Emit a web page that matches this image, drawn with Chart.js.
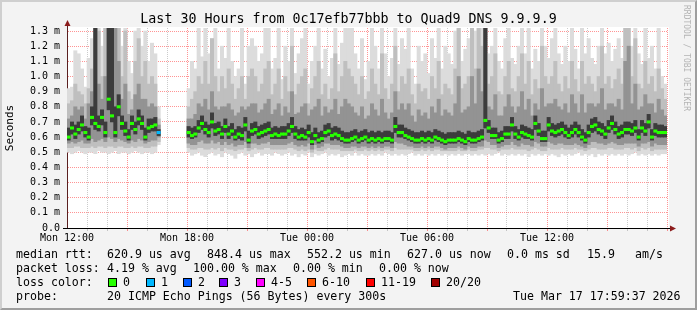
<!DOCTYPE html>
<html><head><meta charset="utf-8">
<script src="https://cdn.jsdelivr.net/npm/chart.js@4"></script>
<style>
html,body{margin:0;padding:0;background:#f3f3f3;}
#wrap{position:relative;width:697px;height:310px;overflow:hidden;background:#f3f3f3;}
#frame{position:absolute;left:0;top:0;width:697px;height:310px;box-sizing:border-box;border-top:2px solid #cfcfcf;border-left:2px solid #cfcfcf;border-right:2px solid #9e9e9e;border-bottom:2px solid #9e9e9e;pointer-events:none;}
canvas{position:absolute;left:0;top:0;}
#title{position:absolute;left:0;top:11px;width:697px;text-align:center;font-family:"DejaVu Sans Mono",monospace;font-size:13.3px;line-height:16px;color:#000;white-space:pre;}
.t{position:absolute;font-family:"DejaVu Sans Mono",monospace;font-size:11.6px;line-height:14px;color:#000;white-space:pre;}
.box{position:absolute;width:7px;height:7px;border:1px solid #000;}
#rrd{position:absolute;left:682px;top:5px;writing-mode:vertical-rl;font-family:"DejaVu Sans Mono",monospace;font-size:8px;line-height:9px;color:#b4b4b4;white-space:pre;}
</style></head>
<body>
<div id="wrap">
<canvas id="c" width="697" height="310"></canvas>
<div id="title">Last 30 Hours from 0c17efb77bbb to Quad9 DNS 9.9.9.9</div>
<div id="rrd">RRDTOOL / TOBI OETIKER</div>
<div id="stats"></div>
<div id="frame"></div>
</div>
<script>
// ---- data (10-minute steps over 30 hours, starting Mon 12:00) ----
const STEP_HOURS = 1/6;
const timeLabels = ['Mon 12:00','Mon 18:00','Tue 00:00','Tue 06:00','Tue 12:00'];
const N = null;

// median rtt (ms)
const median = [
 0.60,0.66,0.62,0.65,0.68,0.63,0.60,0.73,0.69,0.67,0.73,0.63,0.85,0.74,0.63,0.80,0.69,0.64,0.60,0.69,0.65,0.72,0.69,0.60,0.66,0.67,0.68,0.63,N,N,
 N,N,N,N,N,N,0.63,0.61,0.62,0.66,0.69,0.65,0.63,0.70,0.64,0.65,0.62,0.67,0.62,0.64,0.60,0.62,0.61,0.68,0.58,0.64,0.65,0.62,0.63,0.64,
 0.65,0.61,0.62,0.61,0.62,0.62,0.64,0.67,0.62,0.60,0.61,0.60,0.63,0.57,0.61,0.58,0.59,0.63,0.64,0.61,0.62,0.61,0.59,0.58,0.58,0.59,0.60,0.58,0.59,0.60,
 0.58,0.59,0.58,0.59,0.58,0.59,0.59,0.58,0.67,0.63,0.63,0.61,0.60,0.59,0.58,0.58,0.59,0.58,0.59,0.58,0.60,0.59,0.58,0.57,0.58,0.58,0.58,0.59,0.58,0.57,
 0.59,0.58,0.58,0.59,0.60,0.71,0.66,0.61,0.61,0.58,0.59,0.62,0.62,0.68,0.62,0.60,0.63,0.62,0.61,0.60,0.69,0.64,0.59,0.59,0.68,0.64,0.63,0.64,0.65,0.63,
 0.61,0.63,0.65,0.63,0.60,0.58,0.63,0.67,0.68,0.65,0.64,0.62,0.66,0.69,0.65,0.62,0.63,0.65,0.65,0.64,0.66,0.60,0.66,0.64,0.70,0.60,0.64,0.63,0.63,0.63
];
// pings lost (of 20) per step
const lost = [
 0,0,0,0,0,0,0,0,0,0,0,0,0,0,0,0,0,0,0,0,0,0,0,0,0,0,0,1,20,20,
 20,20,20,20,20,20,0,0,0,0,0,0,0,0,0,0,0,0,0,0,0,0,0,0,0,0,0,0,0,0,
 0,0,0,0,0,0,0,0,0,0,0,0,0,0,0,0,0,0,0,0,0,0,0,0,0,0,0,0,0,0,
 0,0,0,0,0,0,0,0,0,0,0,0,0,0,0,0,0,0,0,0,0,0,0,0,0,0,0,0,0,0,
 0,0,0,0,0,0,0,0,0,0,0,0,0,0,0,0,0,0,0,0,0,0,0,0,0,0,0,0,0,0,
 0,0,0,0,0,0,0,0,0,0,0,0,0,0,0,0,0,0,0,0,0,0,0,0,0,0,0,0,0,0
];
// smoke: outer (lightest) to inner (darkest) bands, low and high edges
const high1 = [
 0.92,0.93,1.17,1.15,1.05,0.93,1.12,1.25,1.35,1.35,1.20,1.35,1.35,1.35,1.35,1.35,1.20,1.35,1.10,1.02,1.30,1.35,1.20,1.30,1.10,1.22,1.15,0.80,N,N,
 N,N,N,N,N,N,0.92,1.10,1.05,1.35,1.13,1.35,1.15,1.25,1.35,1.05,1.20,1.12,1.35,1.10,1.00,1.05,1.35,0.95,1.20,1.25,1.20,1.10,1.15,1.35,
 1.35,1.05,1.12,1.35,0.98,1.20,1.10,1.35,1.02,1.15,1.25,1.35,0.95,1.10,1.20,1.35,1.05,1.18,1.00,1.12,1.35,1.08,1.22,1.35,1.35,1.35,1.15,1.05,1.25,0.98,
 1.10,1.35,1.20,1.05,1.35,1.15,1.00,1.12,1.35,1.08,1.25,1.18,1.35,1.05,0.95,1.20,1.10,1.15,1.02,1.25,1.12,1.35,1.05,1.20,1.15,1.08,1.30,1.35,1.10,1.18,
 1.25,1.35,1.30,1.35,1.35,1.35,1.15,1.20,1.35,1.10,1.05,1.25,1.35,1.12,1.08,1.20,1.35,1.15,1.35,1.05,1.18,1.10,1.35,1.20,1.12,1.25,1.35,1.15,1.08,1.20,
 1.10,1.35,1.18,1.05,1.35,1.15,1.25,1.12,1.08,1.20,1.35,1.15,1.22,1.10,1.18,1.25,1.12,1.35,1.35,1.20,1.35,1.15,1.08,1.35,1.12,1.20,1.05,1.35,1.00,0.95
];
const low1 = [
 0.50,0.49,0.50,0.51,0.50,0.49,0.50,0.50,0.49,0.51,0.50,0.50,0.49,0.50,0.51,0.49,0.50,0.50,0.49,0.50,0.51,0.50,0.49,0.50,0.50,0.49,0.50,0.55,N,N,
 N,N,N,N,N,N,0.50,0.48,0.49,0.50,0.48,0.47,0.49,0.50,0.48,0.49,0.47,0.50,0.49,0.48,0.46,0.49,0.50,0.48,0.49,0.47,0.49,0.50,0.48,0.49,
 0.49,0.48,0.50,0.49,0.48,0.49,0.50,0.48,0.49,0.47,0.49,0.48,0.50,0.47,0.49,0.48,0.49,0.50,0.48,0.49,0.48,0.49,0.47,0.48,0.49,0.48,0.50,0.48,0.49,0.48,
 0.48,0.49,0.48,0.49,0.48,0.50,0.49,0.48,0.49,0.48,0.49,0.48,0.49,0.50,0.48,0.49,0.48,0.49,0.48,0.49,0.48,0.49,0.48,0.49,0.48,0.49,0.48,0.49,0.48,0.49,
 0.49,0.48,0.49,0.48,0.49,0.48,0.49,0.48,0.49,0.50,0.48,0.49,0.48,0.49,0.48,0.49,0.48,0.49,0.47,0.49,0.48,0.49,0.48,0.49,0.48,0.49,0.48,0.47,0.49,0.48,
 0.49,0.48,0.49,0.50,0.48,0.49,0.48,0.49,0.47,0.49,0.48,0.49,0.48,0.49,0.48,0.49,0.48,0.49,0.48,0.49,0.50,0.48,0.49,0.48,0.49,0.48,0.49,0.48,0.49,0.49
];
const high2 = [
 0.82,0.84,0.95,0.90,0.88,0.82,0.92,1.05,1.35,1.30,1.00,1.32,1.35,1.35,1.35,1.35,1.00,1.30,0.90,0.85,1.10,1.25,1.00,1.10,0.95,1.00,0.95,0.72,N,N,
 N,N,N,N,N,N,0.80,0.85,0.90,1.00,0.95,1.10,0.95,1.25,1.00,0.90,1.00,0.92,1.05,0.95,0.85,0.92,1.00,0.85,1.00,1.05,1.00,0.90,0.95,1.05,
 1.10,0.88,0.95,1.05,0.85,1.00,0.90,1.20,0.88,0.95,1.00,1.05,0.82,0.92,1.00,1.10,0.88,0.95,0.85,0.92,1.15,0.90,1.00,1.10,1.05,1.00,0.95,0.88,1.00,0.85,
 0.90,1.05,0.95,0.88,1.15,0.92,0.85,0.95,1.20,0.90,1.00,0.95,1.05,0.88,0.82,0.95,0.90,0.92,0.85,1.00,0.92,1.10,0.88,0.95,0.92,0.88,1.05,1.35,0.92,0.95,
 1.00,1.35,1.05,1.35,1.20,1.35,0.95,1.00,1.15,0.90,0.88,1.00,1.10,0.92,0.90,1.00,1.15,0.95,1.10,0.88,0.98,0.92,1.20,1.00,0.95,1.00,1.10,0.95,0.90,1.00,
 0.92,1.10,0.98,0.90,1.10,0.95,1.00,0.95,0.90,1.00,1.20,0.95,1.00,0.92,0.98,1.05,0.95,1.35,1.35,1.00,1.25,0.95,0.92,1.10,0.95,1.00,0.90,1.05,0.92,0.85
];
const low2 = [
 0.53,0.53,0.54,0.54,0.53,0.53,0.53,0.54,0.53,0.54,0.54,0.53,0.54,0.54,0.53,0.54,0.54,0.53,0.53,0.54,0.53,0.54,0.54,0.53,0.53,0.54,0.54,0.57,N,N,
 N,N,N,N,N,N,0.53,0.52,0.52,0.53,0.53,0.52,0.52,0.53,0.52,0.53,0.51,0.53,0.52,0.52,0.51,0.52,0.52,0.53,0.51,0.52,0.53,0.52,0.52,0.53,
 0.53,0.52,0.52,0.52,0.52,0.52,0.53,0.53,0.52,0.51,0.52,0.51,0.52,0.50,0.52,0.51,0.51,0.52,0.53,0.52,0.52,0.52,0.51,0.51,0.51,0.51,0.52,0.51,0.51,0.52,
 0.51,0.52,0.51,0.52,0.51,0.52,0.52,0.51,0.53,0.52,0.52,0.52,0.52,0.52,0.51,0.51,0.52,0.51,0.52,0.51,0.52,0.52,0.51,0.51,0.51,0.51,0.51,0.52,0.51,0.51,
 0.52,0.51,0.51,0.52,0.52,0.53,0.53,0.52,0.52,0.51,0.52,0.52,0.52,0.53,0.52,0.52,0.52,0.52,0.51,0.52,0.53,0.52,0.51,0.51,0.53,0.52,0.52,0.52,0.53,0.52,
 0.52,0.52,0.53,0.52,0.52,0.51,0.52,0.53,0.53,0.52,0.52,0.52,0.53,0.53,0.52,0.52,0.52,0.53,0.53,0.52,0.53,0.51,0.53,0.52,0.53,0.51,0.52,0.52,0.52,0.52
];
const high3 = [
 0.72,0.74,0.80,0.78,0.80,0.72,0.82,0.90,1.35,0.95,0.85,1.00,1.35,1.35,1.35,1.10,0.85,0.95,0.75,0.78,0.88,0.95,0.85,0.85,0.80,0.82,0.80,0.68,N,N,
 N,N,N,N,N,N,0.72,0.72,0.75,0.82,0.80,0.85,0.78,0.90,0.80,0.78,0.80,0.80,0.82,0.78,0.74,0.76,0.80,0.78,0.80,0.82,0.82,0.76,0.78,0.82,
 0.85,0.75,0.78,0.82,0.74,0.80,0.76,0.90,0.75,0.76,0.80,0.82,0.74,0.78,0.80,0.85,0.74,0.80,0.76,0.78,0.85,0.75,0.80,0.85,0.82,0.80,0.76,0.74,0.80,0.72,
 0.74,0.82,0.78,0.74,0.85,0.76,0.72,0.76,0.90,0.78,0.82,0.78,0.82,0.74,0.70,0.78,0.74,0.76,0.72,0.80,0.76,0.85,0.74,0.78,0.76,0.74,0.82,1.00,0.76,0.78,
 0.80,1.00,0.82,1.05,0.90,1.35,0.80,0.78,0.88,0.74,0.74,0.80,0.88,0.80,0.76,0.80,0.90,0.78,0.85,0.74,0.82,0.78,0.92,0.80,0.82,0.82,0.85,0.80,0.78,0.82,
 0.76,0.88,0.82,0.76,0.88,0.76,0.82,0.82,0.80,0.82,0.92,0.78,0.82,0.82,0.80,0.85,0.78,1.10,1.20,0.82,0.95,0.78,0.80,0.88,0.82,0.82,0.76,0.85,0.78,0.74
];
const low3 = [
 0.56,0.57,0.56,0.57,0.58,0.56,0.56,0.59,0.57,0.58,0.59,0.57,0.60,0.59,0.57,0.59,0.58,0.57,0.56,0.58,0.57,0.59,0.58,0.56,0.57,0.58,0.58,0.60,N,N,
 N,N,N,N,N,N,0.56,0.55,0.55,0.57,0.58,0.56,0.56,0.58,0.56,0.57,0.55,0.57,0.55,0.56,0.54,0.55,0.55,0.57,0.53,0.56,0.56,0.55,0.56,0.56,
 0.57,0.55,0.55,0.55,0.55,0.55,0.56,0.57,0.55,0.54,0.55,0.54,0.56,0.52,0.55,0.53,0.54,0.56,0.56,0.55,0.55,0.55,0.54,0.53,0.53,0.54,0.54,0.53,0.54,0.54,
 0.53,0.54,0.53,0.54,0.53,0.54,0.54,0.53,0.57,0.56,0.56,0.55,0.54,0.54,0.53,0.53,0.54,0.53,0.54,0.53,0.54,0.54,0.53,0.52,0.53,0.53,0.53,0.54,0.53,0.52,
 0.54,0.53,0.53,0.54,0.54,0.58,0.57,0.55,0.55,0.53,0.54,0.55,0.55,0.57,0.55,0.54,0.56,0.55,0.55,0.54,0.57,0.56,0.54,0.54,0.57,0.56,0.55,0.56,0.56,0.55,
 0.55,0.55,0.56,0.55,0.54,0.53,0.55,0.57,0.57,0.56,0.56,0.55,0.56,0.57,0.56,0.55,0.55,0.56,0.56,0.56,0.56,0.54,0.56,0.56,0.57,0.54,0.56,0.55,0.55,0.55
];
const high4 = [
 0.66,0.70,0.68,0.70,0.74,0.67,0.66,0.80,1.35,0.74,0.78,0.70,1.35,1.35,0.80,0.88,0.74,0.70,0.65,0.74,0.70,0.78,0.74,0.66,0.72,0.72,0.73,0.65,N,N,
 N,N,N,N,N,N,0.67,0.66,0.67,0.71,0.74,0.70,0.68,0.76,0.69,0.70,0.67,0.72,0.67,0.69,0.65,0.67,0.66,0.73,0.64,0.69,0.70,0.67,0.68,0.69,
 0.70,0.66,0.67,0.66,0.67,0.67,0.69,0.73,0.67,0.65,0.66,0.65,0.68,0.63,0.66,0.63,0.64,0.68,0.69,0.66,0.67,0.66,0.64,0.63,0.63,0.64,0.65,0.63,0.64,0.65,
 0.63,0.64,0.63,0.64,0.63,0.64,0.64,0.63,0.73,0.68,0.68,0.66,0.65,0.64,0.63,0.63,0.64,0.63,0.64,0.63,0.65,0.64,0.63,0.62,0.63,0.63,0.63,0.64,0.63,0.62,
 0.64,0.63,0.63,0.64,0.65,1.35,0.71,0.66,0.66,0.63,0.64,0.67,0.67,0.73,0.67,0.65,0.68,0.67,0.66,0.65,0.74,0.69,0.64,0.64,0.73,0.69,0.68,0.69,0.70,0.68,
 0.66,0.68,0.70,0.68,0.65,0.63,0.68,0.72,0.73,0.70,0.69,0.67,0.71,0.74,0.70,0.67,0.68,0.70,0.70,0.69,0.71,0.65,0.71,0.69,0.75,0.65,0.69,0.68,0.68,0.67
];
const low4 = [
 0.58,0.62,0.59,0.62,0.64,0.60,0.58,0.68,0.65,0.64,0.68,0.60,0.78,0.70,0.60,0.74,0.65,0.61,0.58,0.65,0.62,0.68,0.65,0.58,0.63,0.64,0.64,0.61,N,N,
 N,N,N,N,N,N,0.60,0.59,0.60,0.63,0.65,0.62,0.60,0.66,0.61,0.62,0.59,0.63,0.59,0.61,0.58,0.59,0.58,0.64,0.56,0.61,0.62,0.59,0.60,0.61,
 0.62,0.59,0.59,0.59,0.59,0.59,0.61,0.63,0.59,0.58,0.58,0.58,0.60,0.55,0.58,0.56,0.57,0.60,0.61,0.58,0.59,0.58,0.57,0.56,0.56,0.57,0.58,0.56,0.57,0.58,
 0.56,0.57,0.56,0.57,0.56,0.57,0.57,0.56,0.63,0.60,0.60,0.59,0.58,0.57,0.56,0.56,0.57,0.56,0.57,0.56,0.58,0.57,0.56,0.55,0.56,0.56,0.56,0.57,0.56,0.55,
 0.57,0.56,0.56,0.57,0.58,0.66,0.63,0.59,0.59,0.56,0.57,0.59,0.59,0.64,0.59,0.58,0.60,0.59,0.59,0.58,0.65,0.61,0.57,0.57,0.64,0.61,0.60,0.61,0.62,0.60,
 0.59,0.60,0.62,0.60,0.58,0.56,0.60,0.63,0.64,0.62,0.61,0.59,0.63,0.65,0.62,0.59,0.60,0.62,0.62,0.61,0.63,0.58,0.63,0.61,0.66,0.58,0.61,0.60,0.60,0.60
];
// loss colour legend
const lossLabels = ['0','1','2','3','4-5','6-10','11-19','20/20'];
const lossColors = ['#26ff00','#00b8ff','#0059ff','#7e00ff','#ff00ff','#ff5500','#ff0000','#a10000'];
const lossMax    = [0,1,2,3,5,10,19,20];

// ---- helpers ----
const MONO = '"DejaVu Sans Mono", monospace';
const MED_HALF = 0.008;
function xAt(i){ return (i + 0.5) * STEP_HOURS; }
function band(lo, hi){
  return lo.map((v, i) => ({x: xAt(i), y: (v == null || hi[i] == null) ? null : [v, hi[i]]}));
}
function lossColor(n){
  for (let k = 0; k < lossMax.length; k++) if (n <= lossMax[k]) return lossColors[k];
  return lossColors[lossColors.length - 1];
}
const barCommon = {type:'bar', grouped:false, barPercentage:1, categoryPercentage:1, borderWidth:0, skipNull:true};

const plotBg = {
  id:'plotBg',
  beforeDraw(chart){
    const {ctx, chartArea:a} = chart;
    ctx.save(); ctx.fillStyle = '#ffffff';
    ctx.fillRect(a.left, a.top - 1, a.right - a.left + 2, a.bottom - a.top + 1);
    ctx.restore();
  },
  afterDraw(chart){
    const {ctx, chartArea:a} = chart;
    const by = Math.round(a.bottom) + 0.5, lx = Math.round(a.left) + 0.5;
    ctx.save();
    ctx.lineWidth = 1;
    ctx.strokeStyle = '#000';
    ctx.beginPath(); ctx.moveTo(a.left - 4, by); ctx.lineTo(a.right + 4, by); ctx.stroke();
    ctx.strokeStyle = '#5a2020';
    ctx.beginPath(); ctx.moveTo(lx, a.top); ctx.lineTo(lx, a.top - 3); ctx.stroke();
    ctx.fillStyle = '#8c1c1c';
    ctx.beginPath(); ctx.moveTo(lx, a.top - 8); ctx.lineTo(lx - 3, a.top - 2); ctx.lineTo(lx + 3, a.top - 2); ctx.closePath(); ctx.fill();
    ctx.beginPath(); ctx.moveTo(a.right + 9, by); ctx.lineTo(a.right + 3, by - 3); ctx.lineTo(a.right + 3, by + 3); ctx.closePath(); ctx.fill();
    ctx.restore();
  }
};

new Chart(document.getElementById('c'), {
  type:'bar',
  data:{
    datasets:[
      Object.assign({label:'median', data: median.map((m,i)=>({x:xAt(i), y: m==null?null:[m-MED_HALF, m+MED_HALF]})),
        backgroundColor: median.map((m,i)=>lossColor(lost[i])), order:1}, barCommon),
      Object.assign({label:'band4', data: band(low4, high4), backgroundColor:'#3c3c3c', order:2}, barCommon),
      Object.assign({label:'band3', data: band(low3, high3), backgroundColor:'#939393', order:3}, barCommon),
      Object.assign({label:'band2', data: band(low2, high2), backgroundColor:'#bfbfbf', order:4}, barCommon),
      Object.assign({label:'band1', data: band(low1, high1), backgroundColor:'#dcdcdc', order:5}, barCommon)
    ]
  },
  options:{
    responsive:false, animation:false, devicePixelRatio:1,
    layout:{padding:{left:0, right:30, top:28, bottom:62}},
    plugins:{ legend:{display:false}, tooltip:{enabled:false}, title:{display:false} },
    scales:{
      x:{type:'linear', min:0, max:30, offset:false, z:1,
        grid:{offset:false, tickLength:3,
          color:(c)=> c.tick.value===0 ? 'rgba(0,0,0,0)' : (c.tick.value%3===0 ? 'rgba(255,0,0,0.42)' : 'rgba(140,140,140,0.45)')},
        border:{display:true, color:'#000', width:1, dash:[1,1]},
        ticks:{stepSize:1, autoSkip:false, maxRotation:0, minRotation:0, padding:1, color:'#000', font:{family:MONO, size:10},
          callback:(v)=> (v%6===0 && v/6 < timeLabels.length) ? timeLabels[v/6] : ''},
        afterFit:(s)=>{ s.height = 20; }
      },
      y:{type:'linear', min:0, max:1.32, z:1,
        grid:{drawTicks:false, color:(c)=> c.tick.value===0 ? 'rgba(0,0,0,0)' : 'rgba(255,0,0,0.42)'},
        border:{display:true, color:'#5a2020', width:1, dash:[1,1]},
        ticks:{stepSize:0.1, includeBounds:false, padding:7, color:'#000', font:{family:MONO, size:10},
          callback:(v)=> v===0 ? '0.0' : v.toFixed(1)+' m'},
        title:{display:true, text:'Seconds', color:'#000', font:{family:MONO, size:11}, padding:{top:4, bottom:0}},
        afterFit:(s)=>{ s.width = 67; }
      }
    }
  },
  plugins:[plotBg]
});

// ---- statistics block (text) ----
const rows = [
  {top:247, parts:[[16,'median rtt:'],[107,'620.9 us avg'],[207,'848.4 us max'],[307,'552.2 us min'],[407,'627.0 us now'],[507,'0.0 ms sd'],[587,'15.9'],[635,'am/s']]},
  {top:261, parts:[[16,'packet loss:'],[107,'4.19 % avg'],[193,'100.00 % max'],[293,'0.00 % min'],[379,'0.00 % now']]},
  {top:275, parts:[[16,'loss color:']]},
  {top:289, parts:[[16,'probe:'],[107,'20 ICMP Echo Pings (56 Bytes) every 300s'],[513,'Tue Mar 17 17:59:37 2026']]}
];
const boxX = [108,146,183,219,256,307,366,431];
const stats = document.getElementById('stats');
rows.forEach(r => r.parts.forEach(([x, txt]) => {
  const d = document.createElement('div'); d.className='t'; d.style.left=x+'px'; d.style.top=r.top+'px'; d.textContent=txt; stats.appendChild(d);
}));
lossLabels.forEach((lab, k) => {
  const b = document.createElement('div'); b.className='box'; b.style.left=boxX[k]+'px'; b.style.top='278px'; b.style.background=lossColors[k]; stats.appendChild(b);
  const d = document.createElement('div'); d.className='t'; d.style.left=(boxX[k]+15)+'px'; d.style.top='275px'; d.textContent=lab; stats.appendChild(d);
});
</script>
</body></html>
